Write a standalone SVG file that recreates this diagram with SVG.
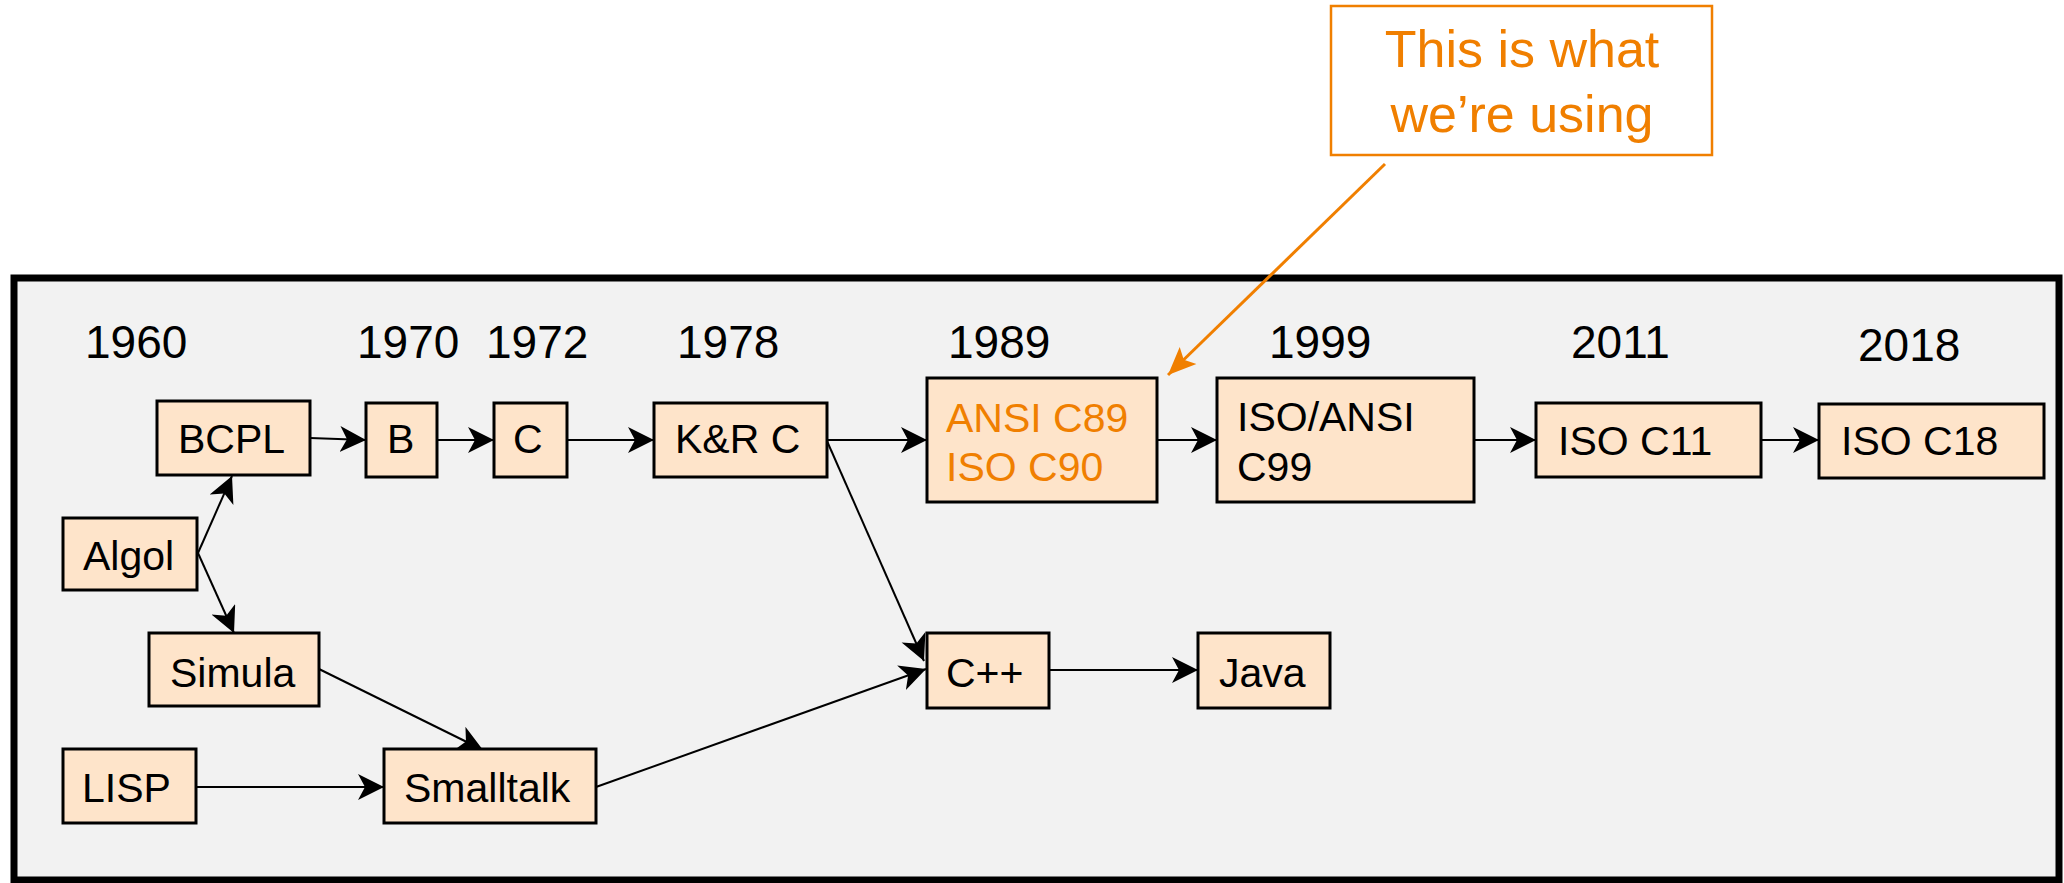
<svg xmlns="http://www.w3.org/2000/svg" width="2064" height="883" viewBox="0 0 2064 883">
<defs>
<style>
.frame{fill:#f2f2f2;stroke:#000;stroke-width:7}
.node rect{fill:#fee4ca;stroke:#000;stroke-width:3}
.t{font-family:"Liberation Sans",Arial,sans-serif;font-size:41px;fill:#000}
.o{fill:#f07f00}
.yr{font-family:"Liberation Sans",Arial,sans-serif;font-size:46px;fill:#000}
.edge{stroke:#000;stroke-width:2;fill:none;marker-end:url(#ah)}
.call{fill:#fff;stroke:#f07f00;stroke-width:2.5}
</style>
<marker id="ah" markerUnits="userSpaceOnUse" markerWidth="28" markerHeight="28" refX="26" refY="13" orient="auto" viewBox="0 0 28 28">
<path d="M0,0 L26,13 L0,26 L7,13 z" fill="#000"/>
</marker>
<marker id="oh" markerUnits="userSpaceOnUse" markerWidth="30" markerHeight="30" refX="28" refY="14" orient="auto" viewBox="0 0 30 30">
<path d="M0,2 L28,14 L0,26 L6,14 z" fill="#f07f00"/>
</marker>
</defs>
<rect class="frame" x="14" y="278" width="2045" height="602"/>
<g id="years" class="yr">
<text x="85" y="358">1960</text>
<text x="357" y="358">1970</text>
<text x="486" y="358">1972</text>
<text x="677" y="358">1978</text>
<text x="948" y="358">1989</text>
<text x="1269" y="358">1999</text>
<text x="1571" y="358">2011</text>
<text x="1858" y="361">2018</text>
</g>
<g id="connectors">
<line class="edge" x1="310" y1="438" x2="366" y2="440"/>
<line class="edge" x1="437" y1="440" x2="494" y2="440"/>
<line class="edge" x1="567" y1="440" x2="654" y2="440"/>
<line class="edge" x1="827" y1="440" x2="927" y2="440"/>
<line class="edge" x1="1157" y1="440" x2="1217" y2="440"/>
<line class="edge" x1="1474" y1="440" x2="1536" y2="440"/>
<line class="edge" x1="1761" y1="440" x2="1819" y2="440"/>
<line class="edge" x1="198" y1="553" x2="232" y2="476"/>
<line class="edge" x1="198" y1="553" x2="234" y2="633"/>
<line class="edge" x1="319" y1="669" x2="483" y2="750"/>
<line class="edge" x1="196" y1="787" x2="384" y2="787"/>
<line class="edge" x1="596" y1="787" x2="926" y2="669"/>
<line class="edge" x1="827" y1="441" x2="924" y2="661"/>
<line class="edge" x1="1049" y1="670" x2="1198" y2="670"/>
<line stroke="#f07f00" stroke-width="3" x1="1385" y1="164" x2="1168" y2="375" marker-end="url(#oh)"/>
</g>
<g id="bcpl" class="node"><rect x="157" y="401" width="153" height="74"/><text class="t" x="178" y="453">BCPL</text></g>
<g id="b" class="node"><rect x="366" y="403" width="71" height="74"/><text class="t" x="387" y="453">B</text></g>
<g id="c" class="node"><rect x="494" y="403" width="73" height="74"/><text class="t" x="513" y="453">C</text></g>
<g id="krc" class="node"><rect x="654" y="403" width="173" height="74"/><text class="t" x="675" y="453">K&amp;R C</text></g>
<g id="ansi" class="node"><rect x="927" y="378" width="230" height="124"/><text class="t o" x="946" y="432">ANSI C89</text><text class="t o" x="946" y="481">ISO C90</text></g>
<g id="c99" class="node"><rect x="1217" y="378" width="257" height="124"/><text class="t" x="1237" y="431">ISO/ANSI</text><text class="t" x="1237" y="481">C99</text></g>
<g id="c11" class="node"><rect x="1536" y="403" width="225" height="74"/><text class="t" x="1558" y="455">ISO C11</text></g>
<g id="c18" class="node"><rect x="1819" y="404" width="225" height="74"/><text class="t" x="1841" y="455">ISO C18</text></g>
<g id="algol" class="node"><rect x="63" y="518" width="134" height="72"/><text class="t" x="83" y="570">Algol</text></g>
<g id="simula" class="node"><rect x="149" y="633" width="170" height="73"/><text class="t" x="170" y="687">Simula</text></g>
<g id="lisp" class="node"><rect x="63" y="749" width="133" height="74"/><text class="t" x="82" y="802">LISP</text></g>
<g id="smalltalk" class="node"><rect x="384" y="749" width="212" height="74"/><text class="t" x="404" y="802">Smalltalk</text></g>
<g id="cpp" class="node"><rect x="927" y="633" width="122" height="75"/><text class="t" x="946" y="687">C++</text></g>
<g id="java" class="node"><rect x="1198" y="633" width="132" height="75"/><text class="t" x="1219" y="687">Java</text></g>
<g id="callout"><rect class="call" x="1331" y="6" width="381" height="149"/>
<text font-family="Liberation Sans, Arial, sans-serif" font-size="52" fill="#f07f00" text-anchor="middle" x="1522" y="67">This is what</text>
<text font-family="Liberation Sans, Arial, sans-serif" font-size="52" fill="#f07f00" text-anchor="middle" x="1522" y="132">we’re using</text></g>
</svg>
